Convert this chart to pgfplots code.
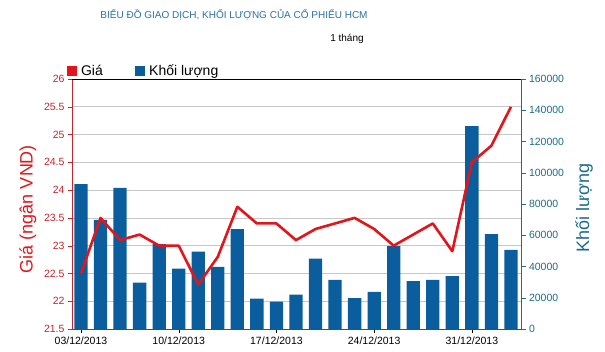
\documentclass[border=0pt]{standalone}
\usepackage{fontspec}
\setmainfont{Liberation Sans}
\usepackage{pgfplots}
\pgfplotsset{compat=1.18}
\definecolor{barblue}{HTML}{0A5E9E}
\definecolor{pricered}{HTML}{E3151A}
\definecolor{axred}{HTML}{C0282D}
\definecolor{axteal}{HTML}{1D6A8C}
\definecolor{titleblue}{HTML}{2A70A6}
\definecolor{gridgray}{HTML}{C8C8C8}
\begin{document}
\begin{tikzpicture}[x=1bp,y=1bp]
\path[use as bounding box] (0,0) rectangle (605,351);
\pgfplotsset{every axis/.append style={scale only axis, width=449.5bp, height=250bp,
  at={(72bp,22bp)}, anchor=south west, xmin=-0.46, xmax=22.54,
  tick label style={font=\fontsize{10.5bp}{12bp}\selectfont},
  /pgf/number format/assume math mode=true,
  tick align=outside, major tick length=4bp}}
% grid, left axis, x axis
\begin{axis}[
  ymin=21.5, ymax=26, ytick={21.5,22,...,26},
  separate axis lines,
  axis y line*=left, axis x line*=bottom,
  y axis line style={axred, line width=0.8bp},
  x axis line style={black!70},
  ytick style={axred}, yticklabel style={text=axred},
  xtick={0,5,10,15,20},
  xticklabels={03/12/2013,10/12/2013,17/12/2013,24/12/2013,31/12/2013},
  xtick style={black},
  ymajorgrids, grid style={gridgray, line width=0.6bp},
  ylabel={Giá (ngân VND)},
  ylabel style={at={(axis description cs:-0.098,0.48)}, anchor=center,
    text=pricered, font=\fontsize{18bp}{20bp}\selectfont},
]
\addplot[draw=none] coordinates {(0,22) (22,22)};
\draw[black, line width=0.8bp] (rel axis cs:0,1) -- (rel axis cs:1,1);
\end{axis}
% volume bars, right axis
\begin{axis}[
  ymin=0, ymax=160000, ytick={0,20000,...,160000},
  scaled y ticks=false,
  axis y line*=right, axis x line=none,
  y axis line style={axteal, line width=0.8bp},
  ytick style={axteal},
  yticklabel style={text=axteal, /pgf/number format/fixed, /pgf/number format/1000 sep={}},
  ylabel={Khối lượng},
  ylabel style={at={(axis description cs:1.139,0.484)}, anchor=center,
    text=axteal, font=\fontsize{18bp}{20bp}\selectfont},
  ybar, bar width=13.3bp,
]
\addplot[fill=barblue, draw=none] coordinates {
(0,92800) (1,69800) (2,90400) (3,29700) (4,54400) (5,38600) (6,49500) (7,39700)
(8,64000) (9,19400) (10,17500) (11,22000) (12,45000) (13,31400) (14,19800)
(15,23700) (16,53100) (17,30700) (18,31400) (19,33900) (20,129900) (21,60800) (22,50600)};
\end{axis}
% price line
\begin{axis}[
  ymin=21.5, ymax=26, hide axis,
  legend columns=2,
  legend style={at={(axis description cs:-0.012,1)}, anchor=south west, draw=none, fill=none,
    font=\fontsize{14bp}{16bp}\selectfont, inner sep=0pt, outer sep=0pt,
    /tikz/every even column/.append style={column sep=30bp}},
]
\addlegendimage{legend image code/.code={\fill[pricered] (0bp,-4.5bp) rectangle (9bp,4.5bp); \path (12bp,0);}}
\addlegendentry{Giá}
\addlegendimage{legend image code/.code={\fill[barblue] (0bp,-4.5bp) rectangle (9bp,4.5bp); \path (12bp,0);}}
\addlegendentry{Khối lượng}
\addplot[pricered, line width=2.6bp, line join=round, forget plot] coordinates {
(0,22.5) (1,23.5) (2,23.1) (3,23.2) (4,23.0) (5,23.0) (6,22.3) (7,22.8)
(8,23.7) (9,23.4) (10,23.4) (11,23.1) (12,23.3) (13,23.4) (14,23.5)
(15,23.3) (16,23.0) (17,23.2) (18,23.4) (19,22.9) (20,24.5) (21,24.8) (22,25.5)};
\end{axis}
\node[font=\fontsize{10bp}{12bp}\selectfont, text=titleblue] at (234,336)
  {BIỂU ĐỒ GIAO DỊCH, KHỐI LƯỢNG CỦA CỔ PHIẾU HCM};
\node[font=\fontsize{10bp}{12bp}\selectfont, text=black] at (347,312) {1 tháng};
\end{tikzpicture}
\end{document}
